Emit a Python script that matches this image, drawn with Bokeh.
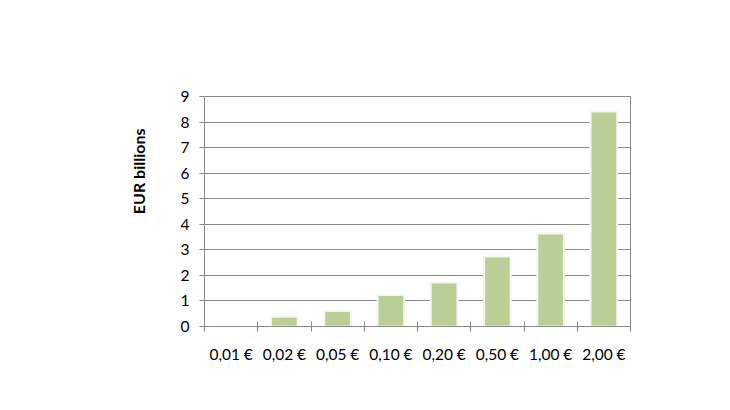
from bokeh.plotting import figure
from bokeh.models import ColumnDataSource, FixedTicker, Range1d, Title
from bokeh.embed import file_html
from bokeh.resources import INLINE

categories = ["0,01 €", "0,02 €", "0,05 €", "0,10 €", "0,20 €", "0,50 €", "1,00 €", "2,00 €"]
values = [0.0, 0.38, 0.61, 1.23, 1.72, 2.74, 3.64, 8.41]
y_ticks = [0, 1, 2, 3, 4, 5, 6, 7, 8, 9]

xs = [i + 0.5 for i in range(len(categories))]
src = ColumnDataSource(dict(x=xs, top=values))

FONT = "Lato"
GRID = "#8a8a8a"

p = figure(width=714, height=394, output_backend="svg", toolbar_location=None,
           x_range=Range1d(0, len(categories)), y_range=Range1d(0, 9),
           min_border_left=204, min_border_right=84, min_border_top=96, min_border_bottom=68)
p.background_fill_color = "white"
p.border_fill_color = "white"
p.outline_line_color = GRID
p.outline_line_width = 1

p.vbar(x="x", top="top", width=0.5, source=src, fill_color="#b9cf95",
       line_color="#f4f6f0", line_width=2)

p.xgrid.visible = False
p.ygrid.ticker = FixedTicker(ticks=y_ticks)
p.ygrid.grid_line_color = GRID
p.ygrid.grid_line_width = 1

p.yaxis.ticker = FixedTicker(ticks=y_ticks)
p.yaxis.axis_line_color = GRID
p.yaxis.major_tick_line_color = GRID
p.yaxis.major_tick_out = 5
p.yaxis.major_tick_in = 0
p.yaxis.minor_tick_line_color = None
p.yaxis.major_label_text_font = FONT
p.yaxis.major_label_text_font_size = "15.5px"
p.yaxis.major_label_text_color = "#000000"
p.yaxis.major_label_standoff = 10

p.xaxis.ticker = FixedTicker(ticks=xs, minor_ticks=list(range(len(categories) + 1)))
p.xaxis.major_label_overrides = {x: c for x, c in zip(xs, categories)}
p.xaxis.axis_line_color = GRID
p.xaxis.major_tick_line_color = None
p.xaxis.minor_tick_line_color = GRID
p.xaxis.minor_tick_in = 5
p.xaxis.minor_tick_out = 5
p.xaxis.major_label_text_font = FONT
p.xaxis.major_label_text_font_size = "15.5px"
p.xaxis.major_label_text_color = "#000000"
p.xaxis.major_label_standoff = 12

ttl = Title(text="EUR billions", align="right", offset=32, standoff=60,
            text_font=FONT, text_font_size="16px", text_font_style="bold",
            text_color="#000000")
p.add_layout(ttl, "left")

open("out.html", "w").write(file_html(p, INLINE))
